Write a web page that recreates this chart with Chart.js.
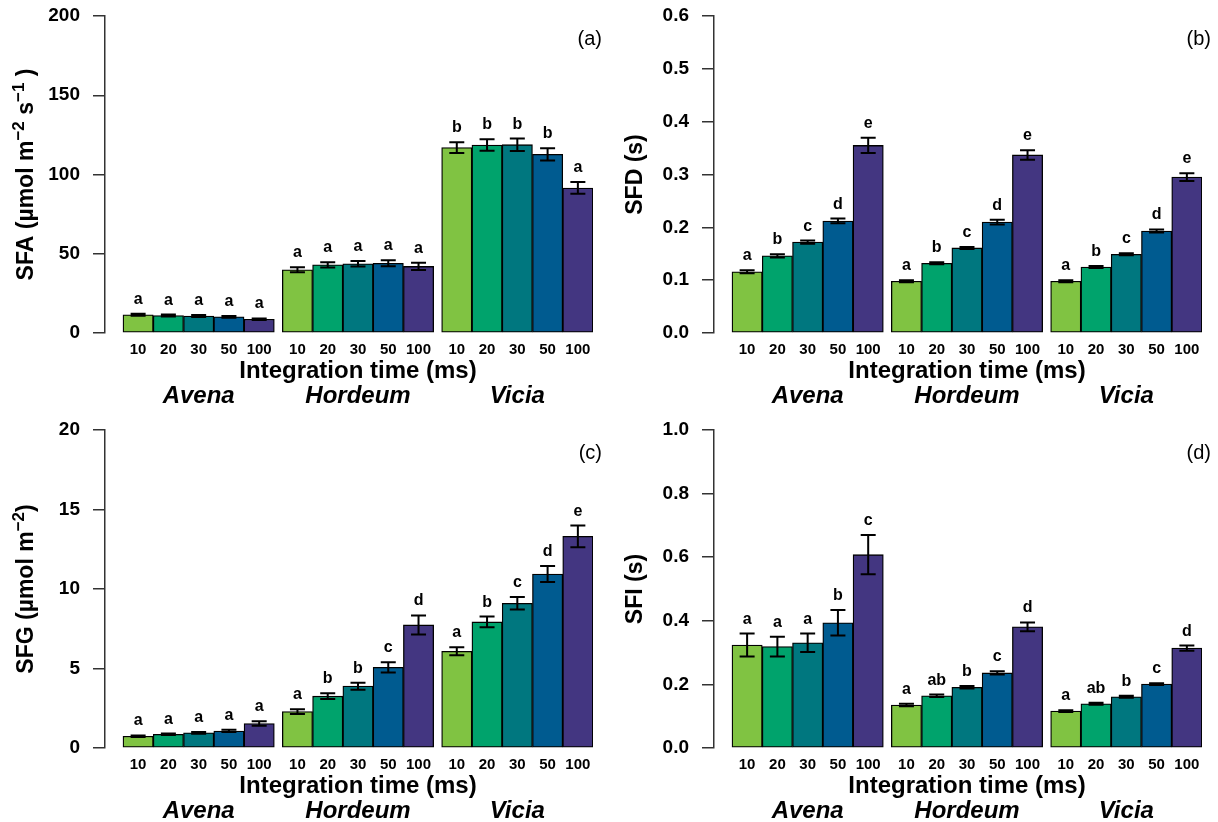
<!DOCTYPE html>
<html><head><meta charset="utf-8">
<script src="https://cdn.jsdelivr.net/npm/chart.js@4.4.1/dist/chart.umd.min.js"></script>
<style>
html,body{margin:0;padding:0;background:#fff;}
#wrap{position:relative;width:1218px;height:822px;overflow:hidden;background:#fff;}
canvas{position:absolute;}
</style></head><body>
<div id="wrap">
<canvas id="ca" width="609" height="414" style="left:0px;top:0px"></canvas>
<canvas id="cb" width="609" height="414" style="left:609px;top:0px"></canvas>
<canvas id="cc" width="609" height="408" style="left:0px;top:414px"></canvas>
<canvas id="cd" width="609" height="408" style="left:609px;top:414px"></canvas>
</div>
<script>
// ---------- data ----------
const species = ['Avena', 'Hordeum', 'Vicia'];
const times = ['10', '20', '30', '50', '100'];
const xTitle = 'Integration time (ms)';

// (a) SFA
const sfaMean = [11.5, 11.0, 10.7, 10.2, 8.7,  39.9, 43.0, 43.7, 44.0, 42.0,  117.0, 118.6, 118.8, 112.7, 91.5];
const sfaErr  = [0.6, 0.6, 0.6, 0.6, 0.5,  1.6, 1.7, 1.8, 1.9, 2.3,  3.4, 3.6, 3.9, 3.9, 3.7];
const sfaLet  = ['a','a','a','a','a', 'a','a','a','a','a', 'b','b','b','b','a'];
const sfaTicks = [0, 50, 100, 150, 200];

// (b) SFD
const sfdMean = [0.116, 0.146, 0.172, 0.212, 0.355,  0.098, 0.132, 0.161, 0.210, 0.337,  0.098, 0.125, 0.149, 0.193, 0.295];
const sfdErr  = [0.003, 0.003, 0.003, 0.0045, 0.0145,  0.002, 0.002, 0.002, 0.0045, 0.009,  0.002, 0.002, 0.002, 0.003, 0.0075];
const sfdLet  = ['a','b','c','d','e', 'a','b','c','d','e', 'a','b','c','d','e'];
const sfdTicks = [0.0, 0.1, 0.2, 0.3, 0.4, 0.5, 0.6];

// (c) SFG
const sfgMean = [0.74, 0.86, 0.95, 1.07, 1.54,  2.29, 3.26, 3.89, 5.07, 7.74,  6.08, 7.93, 9.10, 10.94, 13.31];
const sfgErr  = [0.05, 0.05, 0.06, 0.07, 0.14,  0.15, 0.18, 0.22, 0.32, 0.60,  0.25, 0.34, 0.39, 0.50, 0.68];
const sfgLet  = ['a','a','a','a','a', 'a','b','b','c','d', 'a','b','c','d','e'];
const sfgTicks = [0, 5, 10, 15, 20];

// (d) SFI
const sfiMean = [0.324, 0.319, 0.331, 0.394, 0.608,  0.135, 0.164, 0.191, 0.236, 0.381,  0.116, 0.139, 0.161, 0.201, 0.314];
const sfiErr  = [0.036, 0.031, 0.029, 0.040, 0.062,  0.004, 0.004, 0.004, 0.005, 0.014,  0.003, 0.003, 0.003, 0.003, 0.008];
const sfiLet  = ['a','a','a','b','c', 'a','ab','b','c','d', 'a','ab','b','c','d'];
const sfiTicks = [0.0, 0.2, 0.4, 0.6, 0.8, 1.0];

// ---------- style ----------
const FONT = "'Liberation Sans', Arial, Helvetica, sans-serif";
const barColors = ['#80c342', '#00a36c', '#00777f', '#005b90', '#433681'];
const GROUP_GAP = 0.264;

Chart.defaults.font.family = FONT;
Chart.defaults.color = '#000';

function barPositions() {
  const xs = [];
  species.forEach((s, g) => times.forEach((t, i) => xs.push(g * (times.length + GROUP_GAP) + i)));
  return xs;
}

function makePlugin(p) {
  return {
    id: 'annot_' + p.id,
    afterDatasetsDraw(chart) {
      const ctx = chart.ctx;
      const meta = chart.getDatasetMeta(0);
      const ys = chart.scales.y;
      ctx.save();
      meta.data.forEach((bar, k) => {
        const m = p.mean[k], e = p.err[k];
        const yt = ys.getPixelForValue(m + e), yb = ys.getPixelForValue(m - e);
        ctx.strokeStyle = '#000';
        ctx.lineWidth = 2;
        ctx.beginPath();
        ctx.moveTo(bar.x, yt); ctx.lineTo(bar.x, yb);
        ctx.moveTo(bar.x - 7.5, yt); ctx.lineTo(bar.x + 7.5, yt);
        ctx.moveTo(bar.x - 7.5, yb); ctx.lineTo(bar.x + 7.5, yb);
        ctx.stroke();
        ctx.fillStyle = '#000';
        ctx.font = 'bold 16px ' + FONT;
        ctx.textAlign = 'center';
        ctx.textBaseline = 'alphabetic';
        ctx.fillText(p.letters[k], bar.x, yt - 10);
      });
      ctx.restore();
    },
    afterDraw(chart) {
      const ctx = chart.ctx;
      const ca = chart.chartArea;
      const meta = chart.getDatasetMeta(0);
      const d = meta.data;
      ctx.save();
      ctx.fillStyle = '#000';
      // x title centered on bars
      const left = d[0].x - d[0].width / 2, right = d[d.length - 1].x + d[d.length - 1].width / 2;
      ctx.font = 'bold 24px ' + FONT;
      ctx.textAlign = 'center';
      ctx.textBaseline = 'middle';
      ctx.fillText(xTitle, (left + right) / 2, ca.bottom + 38);
      // species labels
      ctx.font = 'italic bold 24px ' + FONT;
      species.forEach((s, g) => {
        const a = d[g * times.length], b = d[g * times.length + times.length - 1];
        ctx.fillText(s, (a.x + b.x) / 2, ca.bottom + 63);
      });
      // panel label
      ctx.font = '20px ' + FONT;
      ctx.textAlign = 'right';
      ctx.fillText(p.label, ca.right + 9, ca.top + 23);
      // y title with superscripts
      const mainF = 'bold 23px ' + FONT, supF = 'bold 17px ' + FONT;
      let total = 0;
      p.ytitle.forEach(seg => { ctx.font = seg.sup ? supF : mainF; total += ctx.measureText(seg.t).width; });
      ctx.translate(33, (ca.top + ca.bottom) / 2);
      ctx.rotate(-Math.PI / 2);
      ctx.textAlign = 'left';
      ctx.textBaseline = 'alphabetic';
      let x = -total / 2;
      p.ytitle.forEach(seg => {
        ctx.font = seg.sup ? supF : mainF;
        ctx.fillText(seg.t, x, seg.sup ? -9 : 0);
        x += ctx.measureText(seg.t).width;
      });
      ctx.restore();
    }
  };
}

function noPad(s) {
  s.paddingTop = 0; s.paddingBottom = 0; s.paddingLeft = 0; s.paddingRight = 0;
}

function makeChart(canvasId, p) {
  const xs = barPositions();
  const cv = document.getElementById(canvasId);
  const H = cv.height;
  const bottomEdge = p.bottom;
  return new Chart(cv, {
    type: 'bar',
    data: {
      datasets: [{
        data: xs.map((x, k) => ({ x: x, y: p.mean[k] })),
        backgroundColor: xs.map((x, k) => barColors[k % times.length]),
        borderColor: '#000',
        borderWidth: 1.3,
        borderSkipped: false,
        barPercentage: 1,
        categoryPercentage: 1
      }]
    },
    options: {
      responsive: false,
      animation: false,
      devicePixelRatio: 1,
      layout: { padding: { left: 0, right: 16, top: 16, bottom: 0 } },
      plugins: { legend: { display: false }, tooltip: { enabled: false } },
      scales: {
        x: {
          type: 'linear',
          offset: false,
          min: -0.5 - 0.594,
          max: xs[xs.length - 1] + 0.5,
          grid: { display: false, drawTicks: false },
          border: { display: false },
          afterBuildTicks: (s) => { s.ticks = xs.map(v => ({ value: v })); },
          afterFit: (s) => { s.height = H - bottomEdge; noPad(s); },
          ticks: {
            autoSkip: false,
            maxRotation: 0,
            padding: 8,
            font: { size: 15, weight: 'bold' },
            color: '#000',
            callback: (v, i) => times[i % times.length]
          }
        },
        y: {
          min: 0,
          max: p.ticks[p.ticks.length - 1],
          afterBuildTicks: (s) => { s.ticks = p.ticks.map(v => ({ value: v })); },
          afterFit: (s) => { s.width = 105; noPad(s); },
          grid: { drawOnChartArea: false, drawTicks: true, tickLength: 12, color: '#333', lineWidth: 1.5 },
          border: { display: true, color: '#333', width: 1.5 },
          ticks: {
            padding: 13,
            font: { size: 19, weight: 'bold' },
            color: '#000',
            callback: (v) => Number(v).toFixed(p.dec)
          }
        }
      }
    },
    plugins: [makePlugin(p)]
  });
}

makeChart('ca', { id: 'a', mean: sfaMean, err: sfaErr, letters: sfaLet, ticks: sfaTicks, dec: 0, label: '(a)', bottom: 333,
  ytitle: [{ t: 'SFA (µmol m' }, { t: '−2', sup: true }, { t: ' s' }, { t: '−1', sup: true }, { t: ' )' }] });
makeChart('cb', { id: 'b', mean: sfdMean, err: sfdErr, letters: sfdLet, ticks: sfdTicks, dec: 1, label: '(b)', bottom: 333,
  ytitle: [{ t: 'SFD (s)' }] });
makeChart('cc', { id: 'c', mean: sfgMean, err: sfgErr, letters: sfgLet, ticks: sfgTicks, dec: 0, label: '(c)', bottom: 334,
  ytitle: [{ t: 'SFG (µmol m' }, { t: '−2', sup: true }, { t: ')' }] });
makeChart('cd', { id: 'd', mean: sfiMean, err: sfiErr, letters: sfiLet, ticks: sfiTicks, dec: 1, label: '(d)', bottom: 334,
  ytitle: [{ t: 'SFI (s)' }] });
</script>
</body></html>
